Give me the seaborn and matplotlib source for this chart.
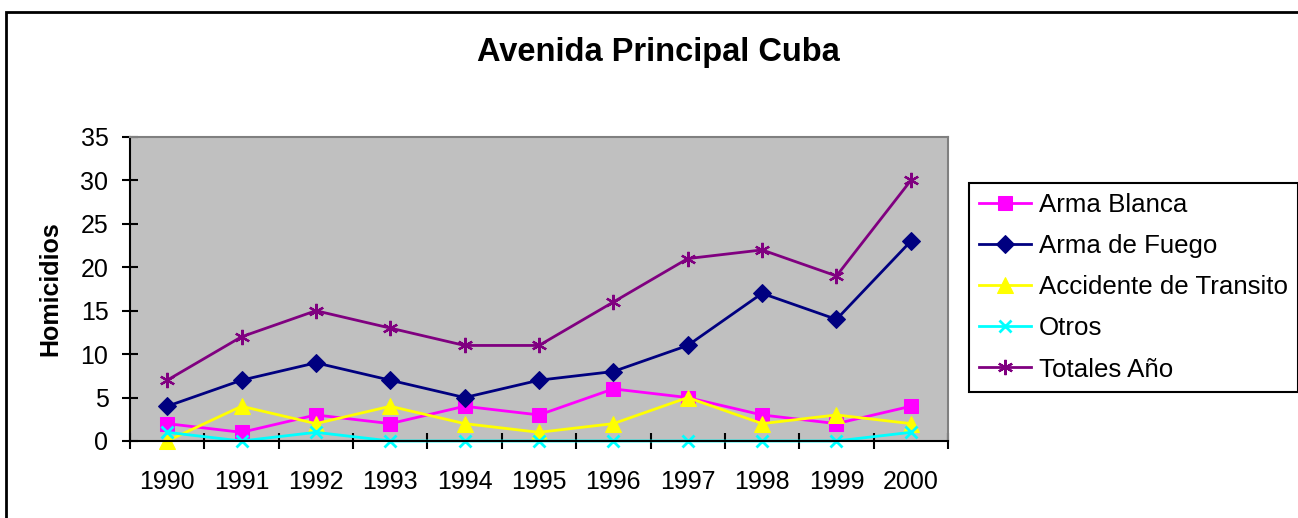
import matplotlib
matplotlib.use("Agg")
import matplotlib.pyplot as plt
import seaborn as sns
import pandas as pd
from matplotlib.patches import Rectangle
from matplotlib.ticker import MultipleLocator, FixedLocator

years = [1990, 1991, 1992, 1993, 1994, 1995, 1996, 1997, 1998, 1999, 2000]
arma_blanca = [2, 1, 3, 2, 4, 3, 6, 5, 3, 2, 4]
arma_fuego = [4, 7, 9, 7, 5, 7, 8, 11, 17, 14, 23]
accidente = [0, 4, 2, 4, 2, 1, 2, 5, 2, 3, 2]
otros = [1, 0, 1, 0, 0, 0, 0, 0, 0, 0, 1]
totales = [7, 12, 15, 13, 11, 11, 16, 21, 22, 19, 30]

series_names = ["Arma Blanca", "Arma de Fuego", "Accidente de Transito", "Otros", "Totales Año"]
series_values = [arma_blanca, arma_fuego, accidente, otros, totales]

df = pd.DataFrame({"Año": years})
for name, vals in zip(series_names, series_values):
    df[name] = vals

plt.rcParams['font.family'] = ['Liberation Sans', 'DejaVu Sans']

fig = plt.figure(figsize=(12.98, 5.18), dpi=100)
ax = fig.add_axes([130 / 1298, 1 - 441 / 518, 818 / 1298, 304 / 518])
ax.set_facecolor('#C0C0C0')

styles = {
    "Arma Blanca": dict(color='#FF00FF', marker='s', markersize=9.5),
    "Arma de Fuego": dict(color='#000080', marker='D', markersize=9),
    "Accidente de Transito": dict(color='#FFFF00', marker='^', markersize=11),
    "Otros": dict(color='#00FFFF', marker='x', markersize=8, markeredgewidth=2),
    "Totales Año": dict(color='#800080', marker=(6, 2, 0), markersize=11, markeredgewidth=1.6),
}

for name in series_names:
    st = styles[name]
    sns.lineplot(data=df, x="Año", y=name, ax=ax, label=name,
                 linewidth=2, markeredgecolor=st['color'], clip_on=False, **st)

ax.set_xlim(1989.5, 2000.5)
ax.set_ylim(0, 35)
ax.yaxis.set_major_locator(MultipleLocator(5))
ax.xaxis.set_major_locator(FixedLocator(years))
ax.xaxis.set_minor_locator(FixedLocator([y + 0.5 for y in [1989] + years]))
ax.set_xticklabels([str(y) for y in years])
ax.tick_params(axis='x', which='major', length=0, labelsize=18, pad=21)
ax.tick_params(axis='x', which='minor', direction='inout', length=11, width=1.5, color='black')
ax.tick_params(axis='y', which='major', direction='inout', length=11, width=1.5,
               labelsize=18, pad=10, color='black')

for side in ['top', 'right']:
    ax.spines[side].set_color('#808080')
    ax.spines[side].set_linewidth(1.5)
for side in ['left', 'bottom']:
    ax.spines[side].set_color('black')
    ax.spines[side].set_linewidth(1.5)

ax.set_xlabel('')
ax.set_ylabel('Homicidios', fontsize=18, fontweight='bold')
ax.yaxis.set_label_coords(-0.083, 0.5)

fig.text(658 / 1298, 1 - 53 / 518, 'Avenida Principal Cuba', ha='center', va='center',
         fontsize=23.5, fontweight='bold')

leg = ax.legend(loc='upper left', bbox_to_anchor=(969 / 1298, 1 - 183 / 518),
                bbox_transform=fig.transFigure, borderaxespad=0, fontsize=18.6,
                frameon=True, fancybox=False, edgecolor='black', framealpha=1,
                handlelength=2.0, handletextpad=0.3, labelspacing=0.66,
                borderpad=0.4)
leg.get_frame().set_linewidth(1.5)

fig.patches.append(Rectangle((6 / 1298, -0.1), 1.2, 1 - 12 / 518 + 0.1,
                             transform=fig.transFigure, fill=False,
                             edgecolor='black', linewidth=2))

fig.savefig('out.png', dpi=100)
